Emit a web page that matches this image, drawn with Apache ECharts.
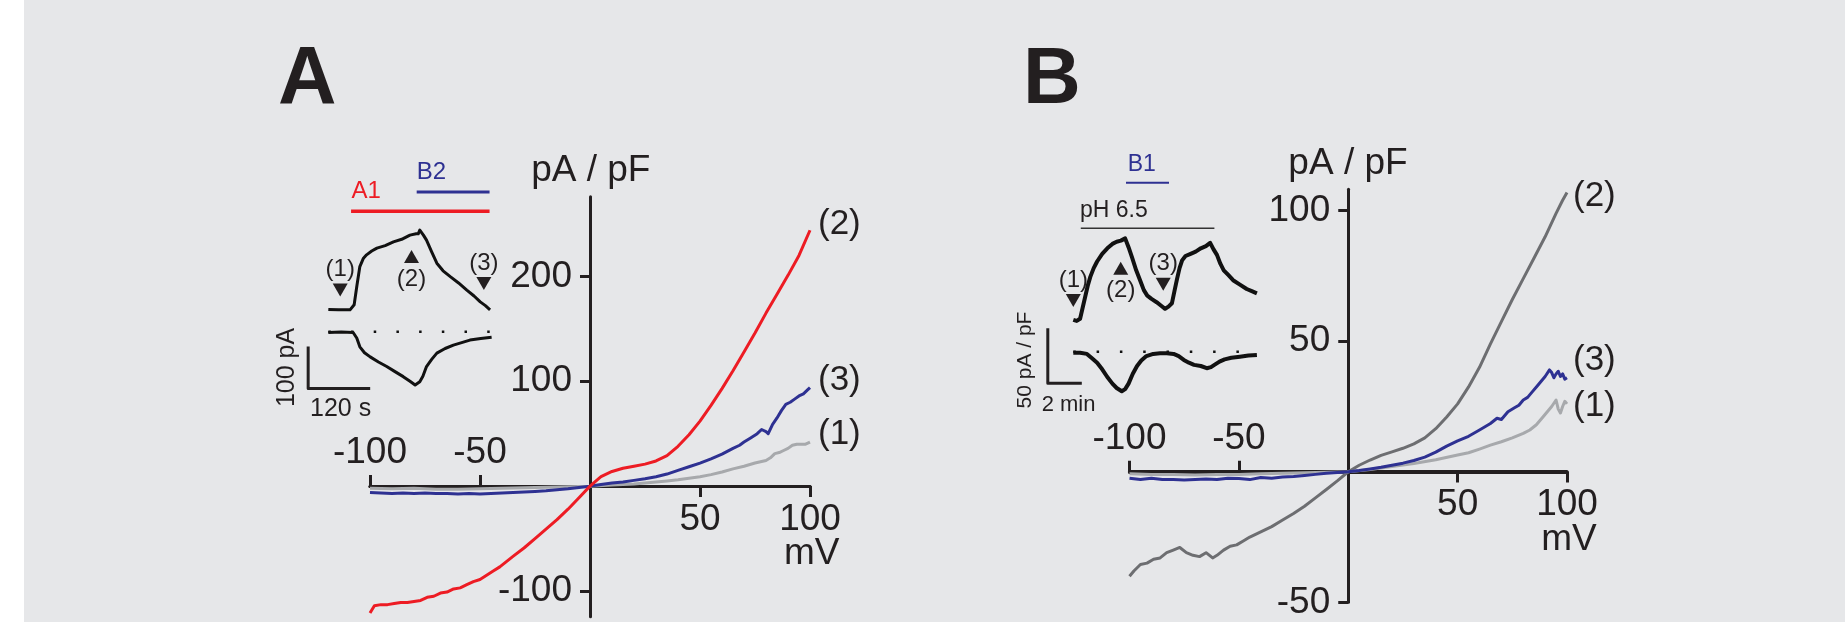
<!DOCTYPE html>
<html>
<head>
<meta charset="utf-8">
<script src="https://cdn.jsdelivr.net/npm/echarts@6/dist/echarts.min.js"></script>
<style>
  html, body { margin: 0; padding: 0; background: #fff; }
  #chart {
    width: 1845px;
    height: 622px;
    background: linear-gradient(to right, #ffffff 24px, #e6e7e9 24px);
  }
</style>
</head>
<body>
<div id="chart"></div>
<script>
// ---- panel A, I-V curves: [mV, pA/pF] ----
const ivA1 = [[-100,-2],[-90,-2.5],[-80,-2],[-70,-3],[-60,-3],[-50,-2.5],[-40,-2],[-30,-1.5],[-20,-1],[-10,-0.5],[0,0],
  [10,1],[20,2],[25,3],[30,4],[35,5],[40,6],[45,7.5],[50,9],[55,11],[60,13.5],[65,16.5],[70,19],[75,22],[80,24.5],
  [82,27],[84,31],[86,32],[88,34],[90,36],[92,39],[94,40],[96,40],[98,40],[100,42]];
const ivA2 = [[-100,-121],[-98,-114],[-95,-113],[-92,-113],[-89,-112],[-86,-111],[-83,-111],[-80,-110],[-77,-109],
  [-74,-106],[-71,-105],[-68,-102],[-65,-101],[-62,-98],[-59,-97],[-56,-94],[-53,-91],[-50,-89],[-47,-85],[-44,-81],
  [-41,-77],[-38,-72],[-35,-67],[-30,-59],[-25,-50],[-20,-41],[-15,-32],[-10,-22],[-5,-11],[0,0],[5,9],[10,14],[15,17],
  [20,19],[25,21],[30,24],[35,29],[40,38],[45,49],[50,62],[55,77],[60,93],[65,110],[70,128],[75,146],[80,165],
  [85,183],[90,201],[95,220],[100,244]];
const ivA3 = [[-100,-6],[-95,-6.5],[-90,-7],[-85,-6.5],[-80,-7],[-75,-6.5],[-70,-7],[-65,-7],[-60,-7.5],[-55,-7],
  [-50,-7.5],[-45,-7],[-40,-6.5],[-35,-6],[-30,-5.5],[-25,-5],[-20,-4.5],[-15,-3.5],[-10,-2.5],[-5,-1.2],[0,0],
  [5,1.5],[10,3],[15,4],[20,5.5],[25,7],[30,9],[35,11.5],[40,15],[45,18.5],[50,22],[55,26],[60,30.5],[65,36],
  [68,39],[70,42],[73,46],[76,50],[78,54],[80,52],[81,50],[83,59],[85,65],[87,72],[89,78],[91,80],[93,83],[95,86],
  [97,88],[99,92],[100,94]];

// ---- panel B, I-V curves: [mV, pA/pF] ----
const ivB1 = [[-100,-0.8],[-90,-1],[-80,-1],[-70,-1.2],[-60,-1],[-50,-1],[-40,-0.8],[-30,-0.6],[-20,-0.4],[-10,-0.2],
  [0,0],[10,0.9],[20,2],[30,3.2],[40,4.6],[50,6.4],[55,7.3],[60,8.7],[65,10.2],[70,11.5],[75,13],[80,14.7],[83,16],
  [86,18],[89,21],[91,23],[93,25],[95,27.5],[96,24],[97,22.5],[98,25],[99,27],[100,26]];
const ivB2 = [[-100,-40],[-98,-38],[-95,-35.5],[-92,-35],[-89,-33.5],[-86,-33],[-83,-31],[-80,-30],[-77,-29],
  [-74,-31],[-71,-32],[-68,-32.5],[-65,-31],[-62,-33],[-60,-32],[-57,-30],[-54,-28.5],[-51,-28],[-48,-26.5],
  [-45,-25],[-40,-23],[-35,-21],[-30,-18.5],[-25,-16],[-20,-13.2],[-15,-10],[-10,-6.8],[-5,-3.5],[0,0],[5,2.5],
  [10,4.5],[15,6.3],[20,7.6],[25,9],[30,10.7],[35,13],[40,16.5],[45,21],[50,26],[55,32.5],[60,40],[65,49],
  [70,57.5],[75,66],[80,74],[85,82],[90,90],[95,99],[98,104],[100,107]];
const ivB3 = [[-100,-2.5],[-95,-3],[-90,-2.5],[-85,-3],[-80,-3],[-75,-3.2],[-70,-3],[-65,-2.8],[-60,-3],[-55,-2.5],
  [-50,-2.6],[-45,-3],[-40,-2.2],[-35,-2.5],[-30,-2],[-25,-1.8],[-20,-1.4],[-15,-1],[-10,-0.6],[-5,-0.3],[0,0],
  [5,0.5],[10,1.1],[15,1.7],[20,2.5],[25,3.3],[30,4.3],[35,5.6],[40,7.5],[45,9.8],[50,11.8],[55,13.6],[60,16],
  [65,18.5],[68,20.5],[70,20],[73,23],[76,24.5],[78,25.5],[80,27.5],[82,28.5],[84,30.5],[86,32.5],[88,34.5],
  [90,36.5],[92,39],[93,38],[94,36],[95,37.5],[96,38.5],[97,36.5],[98,37.5],[99,35.5],[100,36]];

// tick labels
const ticksXNeg = [-100, -50];
const ticksXPos = [50, 100];
const ticksYA = [-100, 100, 200];
const ticksYB = [-50, 50, 100];

// ---- inset A time course: [s, pA] ----
const traceAOut = [[0,53],[20,52],[42,52],[50,64],[55,107],[61,155],[68,175],[74,183],[84,192],[94,199],[110,205],
  [126,214],[142,220],[158,230],[170,233],[174,233],[177,242],[184,230],[190,218],[200,190],[210,163],[222,145],
  [236,131],[252,116],[268,99],[282,85],[294,71],[304,62],[313,52]];
const traceAIn = [[0,-2],[25,-1],[48,-2],[55,-15],[61,-36],[70,-50],[81,-60],[97,-72],[113,-83],[129,-95],[145,-107],
  [158,-118],[168,-127],[177,-119],[183,-106],[190,-83],[200,-66],[210,-51],[226,-40],[242,-32],[258,-26],
  [274,-20],[295,-16],[316,-13]];
const barA1 = [44, 312];
const barB2 = [171, 312];
const marksA = ['(1)', '(2)', '(3)'];
const markTimesA = [23, 161, 301];
const scaleA = [120, 100]; // s, pA

// ---- inset B time course: [min, pA/pF] ----
const traceBOut = [[0,29],[0.2,28],[0.4,30],[0.55,40],[0.7,50],[0.85,60],[1,68],[1.2,76],[1.4,82],[1.7,89],[2,94],
  [2.3,98],[2.55,100],[2.8,101],[3.05,103],[3.25,95],[3.45,86],[3.7,74],[3.95,64],[4.15,56],[4.35,51],[4.6,48],
  [4.9,45],[5.15,42],[5.4,39],[5.6,41],[5.8,44],[5.95,55],[6.1,66],[6.25,76],[6.4,83],[6.6,87],[6.9,89],[7.2,91],
  [7.5,94],[7.8,96],[8.05,99],[8.25,93],[8.45,88],[8.65,80],[8.85,74],[9.1,70],[9.4,65],[9.8,61],[10.2,57],
  [10.5,55],[10.8,53]];
const traceBIn = [[0,-1],[0.4,-1],[0.8,-2],[1.1,-6],[1.4,-10],[1.7,-16],[2,-23],[2.3,-29],[2.55,-33],[2.85,-36],
  [3.05,-34],[3.25,-29],[3.5,-20],[3.75,-13],[4,-8],[4.3,-4],[4.7,-2],[5.1,-1.5],[5.5,-1.5],[5.9,-2],[6.2,-4],
  [6.5,-7.5],[6.8,-10],[7.1,-12],[7.5,-13],[7.85,-15],[8.1,-14],[8.3,-12],[8.6,-9],[8.9,-7],[9.3,-5.5],[9.8,-4.5],
  [10.3,-3.5],[10.8,-3]];
const barPH = [0.44, 8.3];
const barB1 = [3.1, 5.63];
const marksB = ['(1)', '(2)', '(3)'];
const markTimesB = [0, 2.79, 5.29];
const scaleB = [2, 50]; // min, pA/pF

const FONT = '"Liberation Sans", Arial, sans-serif';
const ink = '#231f20';
const red = '#ed1c24';
const navy = '#2e3192';
const lightGray = '#a7a9ac';
const darkGray = '#6d6e71';

const chart = echarts.init(document.getElementById('chart'));

// axes are moved onto the zero lines with offset (labels travel with them)
function mainX(grid, pos, offset, ticks) {
  return {
    type: 'value', gridIndex: grid, min: -100, max: 100, position: pos, offset: offset,
    axisLine: { onZero: false, lineStyle: { color: ink, width: 3 } },
    axisTick: { customValues: ticks, length: 11, lineStyle: { color: ink, width: 3 } },
    axisLabel: { customValues: ticks, margin: 15, fontSize: 37, fontFamily: FONT, color: ink },
    splitLine: { show: false }
  };
}

function mainY(grid, offset, min, max, ticks) {
  return {
    type: 'value', gridIndex: grid, min: min, max: max, position: 'left', offset: offset,
    axisLine: { onZero: false, lineStyle: { color: ink, width: 3 } },
    axisTick: { customValues: ticks, length: 10, lineStyle: { color: ink, width: 3 } },
    axisLabel: { customValues: ticks, margin: 18, fontSize: 37, fontFamily: FONT, color: ink },
    splitLine: { show: false }
  };
}

function hiddenAxis(grid, min, max) {
  return { type: 'value', gridIndex: grid, min: min, max: max, show: false };
}

function ivLine(data, xIdx, yIdx, color, label, dy, dist) {
  return {
    type: 'line', data: data, xAxisIndex: xIdx, yAxisIndex: yIdx,
    showSymbol: false, symbol: 'none', silent: true,
    lineStyle: { color: color, width: 3, join: 'round' },
    itemStyle: { color: color },
    endLabel: {
      show: true, formatter: label, distance: dist, offset: [0, dy],
      fontSize: 35, fontFamily: FONT, color: ink
    }
  };
}

function plainLine(data, idx, color, width, type) {
  return {
    type: 'line', data: data, xAxisIndex: idx, yAxisIndex: idx - 2,
    showSymbol: false, symbol: 'none', silent: true,
    lineStyle: { color: color, width: width, type: type || 'solid', join: 'round' }
  };
}

function marks(idx, names, times, levels, up) {
  const downs = [];
  const ups = [];
  names.forEach(function (n, i) {
    const item = { value: [times[i], levels[i]], name: n };
    if (up.indexOf(i) >= 0) ups.push(item); else downs.push(item);
  });
  const label = { show: true, formatter: '{b}', fontSize: 24, fontFamily: FONT, color: ink };
  return [
    { type: 'scatter', xAxisIndex: idx, yAxisIndex: idx - 2, silent: true,
      symbol: 'path://M0 0 L12 0 L6 11 Z', symbolSize: [15, 13], itemStyle: { color: ink, opacity: 1 },
      label: Object.assign({ position: 'top', distance: 2 }, label), data: downs },
    { type: 'scatter', xAxisIndex: idx, yAxisIndex: idx - 2, silent: true,
      symbol: 'path://M6 0 L12 11 L0 11 Z', symbolSize: [15, 13], itemStyle: { color: ink, opacity: 1 },
      label: Object.assign({ position: 'bottom', distance: 4 }, label), data: ups }
  ];
}

// scale-bar anchors (inset units)
const sbA = [-39, -135];
const sbB = [-1.5, -28.7];

function txt(text, x, y, size, color, align, extra) {
  return Object.assign({
    type: 'text', x: x, y: y, silent: true,
    style: { text: text, font: size + 'px ' + FONT, fill: color || ink, align: align || 'left', verticalAlign: 'middle' }
  }, extra || {});
}

const option = {
  animation: false,
  backgroundColor: 'transparent',
  grid: [
    { left: 370, top: 196.7, width: 440, height: 420, outerBoundsMode: 'none' },
    { left: 1129.5, top: 189.3, width: 437.5, height: 413, outerBoundsMode: 'none' },
    { left: 299.9, top: 163.7, width: 220.4, height: 252, outerBoundsMode: 'none' },
    { left: 1022.3, top: 131.7, width: 255, height: 286, outerBoundsMode: 'none' }
  ],
  xAxis: [
    mainX(0, 'bottom', -130.7, ticksXPos),
    mainX(0, 'top', -289.3, ticksXNeg),
    mainX(1, 'bottom', -130.9, ticksXPos),
    mainX(1, 'top', -282.5, ticksXNeg),
    hiddenAxis(2, -55, 371.5),
    hiddenAxis(3, -3, 12)
  ],
  yAxis: [
    mainY(0, -220, -124.5, 276, ticksYA),
    mainY(1, -218.75, -50, 108.2, ticksYB),
    hiddenAxis(2, -200, 400),
    hiddenAxis(3, -60, 200)
  ],
  series: [
    ivLine(ivA1, 0, 0, lightGray, '(1)', -8, 8),
    ivLine(ivA3, 0, 0, navy, '(3)', -7, 8),
    ivLine(ivA2, 0, 0, red, '(2)', -6, 8),
    ivLine(ivB2, 2, 1, darkGray, '(2)', 4, 6),
    ivLine(ivB1, 2, 1, lightGray, '(1)', 2, 6),
    ivLine(ivB3, 2, 1, navy, '(3)', -17, 6),

    // inset A
    plainLine(traceAOut, 4, '#111', 3),
    plainLine(traceAIn, 4, '#111', 3),
    plainLine([[0, 0], [313, 0]], 4, '#111', 2.5, [2.5, 20.2]),
    plainLine([[barA1[0], 287], [barA1[1], 287]], 4, red, 3.5),
    plainLine([[barB2[0], 332.6], [barB2[1], 332.6]], 4, navy, 3),
    plainLine([[sbA[0], sbA[1] + scaleA[1]], sbA, [sbA[0] + scaleA[0], sbA[1]]], 4, ink, 3),
    ...marks(4, marksA, markTimesA, [99, 179, 115], [1]),

    // inset B
    plainLine(traceBOut, 5, '#111', 4),
    plainLine(traceBIn, 5, '#111', 4),
    plainLine([[0, 0], [10.8, 0]], 5, '#111', 2.5, [2.5, 20.8]),
    plainLine([[barPH[0], 112.2], [barPH[1], 112.2]], 5, '#333', 1.5),
    plainLine([[barB1[0], 153.6], [barB1[1], 153.6]], 5, navy, 2),
    plainLine([[sbB[0], sbB[1] + scaleB[1]], sbB, [sbB[0] + scaleB[0], sbB[1]]], 5, ink, 3),
    ...marks(5, marksB, markTimesB, [46.5, 75.8, 61.4], [1])
  ],
  graphic: [
    txt('A', 278, 81, 'bold 81', ink, 'left'),
    txt('B', 1023, 81.4, 'bold 80', ink, 'left'),
    txt('pA / pF', 590.8, 170.8, 37, ink, 'center'),
    txt('pA / pF', 1348, 164, 37, ink, 'center'),
    txt('mV', 811.7, 553.3, 37, ink, 'center'),
    txt('mV', 1569, 540, 37, ink, 'center'),
    txt('A1', 351.5, 191.7, 24, red, 'left'),
    txt('B2', 416.7, 172.5, 24, navy, 'left'),
    txt('100 pA', 287.5, 367.5, 25, ink, 'center', { rotation: Math.PI / 2 }),
    txt('120 s', 310, 409.3, 25, ink, 'left'),
    txt('B1', 1127.7, 165, 23, navy, 'left'),
    txt('pH 6.5', 1080, 211, 23, ink, 'left'),
    txt('50 pA / pF', 1025, 360, 21, ink, 'center', { rotation: Math.PI / 2 }),
    txt('2 min', 1041.7, 405, 22, ink, 'left')
  ]
};

chart.setOption(option);
</script>
</body>
</html>
